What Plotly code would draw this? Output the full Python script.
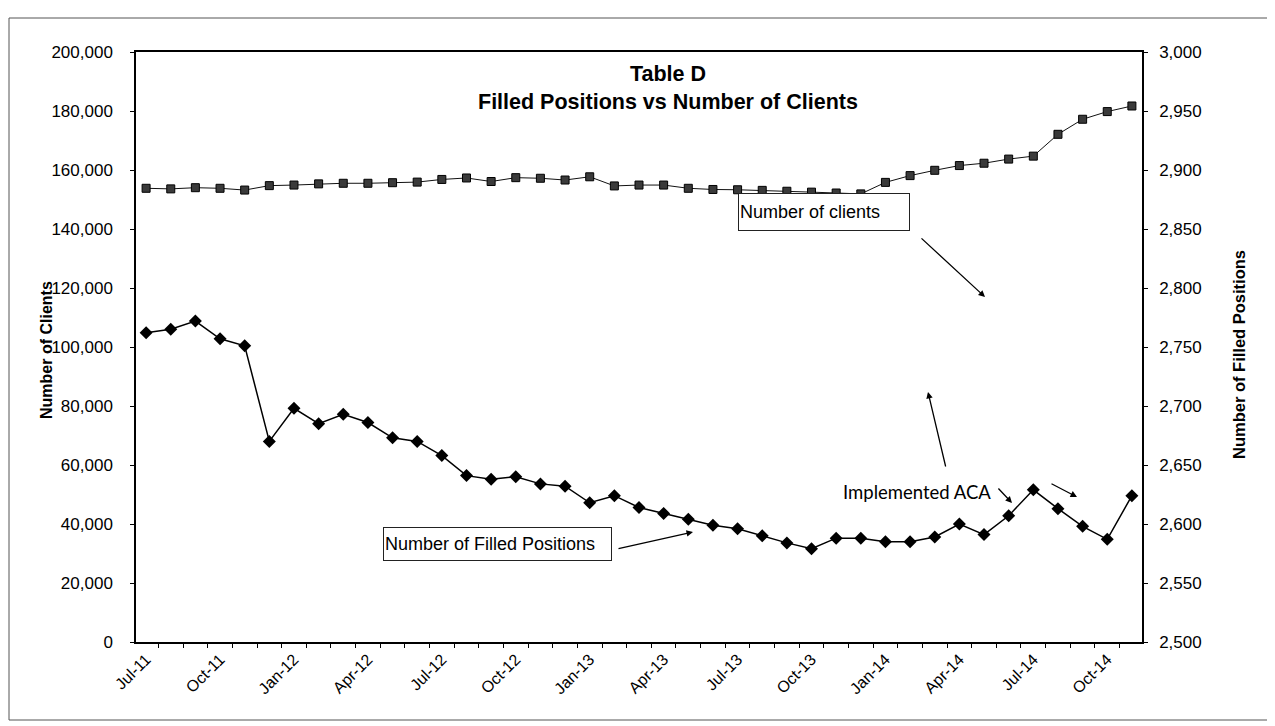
import plotly.graph_objects as go
import pandas as pd

# ---- data ----
months = [d.strftime("%b-%y") for d in pd.date_range("2011-07-01", "2014-11-01", freq="MS")]
clients = [153800, 153600, 154000, 153800, 153200, 154700, 154900, 155300, 155500, 155500,
           155700, 155900, 156800, 157300, 156100, 157400, 157200, 156600, 157700, 154600,
           154900, 154900, 153800, 153400, 153300, 153100, 152800, 152500, 152200, 151900,
           155800, 158100, 159900, 161500, 162300, 163700, 164700, 172100, 177200, 179800,
           181700]
filled_positions = [2762, 2765, 2772, 2757, 2751, 2670, 2698, 2685, 2693, 2686,
                    2673, 2670, 2658, 2641, 2638, 2640, 2634, 2632, 2618, 2624,
                    2614, 2609, 2604, 2599, 2596, 2590, 2584, 2579, 2588, 2588,
                    2585, 2585, 2589, 2600, 2591, 2607, 2629, 2613, 2598, 2587,
                    2624]
tick_labels = ["Jul-11", "Oct-11", "Jan-12", "Apr-12", "Jul-12", "Oct-12", "Jan-13",
               "Apr-13", "Jul-13", "Oct-13", "Jan-14", "Apr-14", "Jul-14", "Oct-14"]

idx = list(range(len(months)))
tick_pos = [months.index(t) for t in tick_labels]

FONT = "Liberation Sans, Arial, sans-serif"
OFF = 8  # page body margin offset

fig = go.Figure()
fig.add_trace(go.Scatter(
    x=idx, y=clients, mode="lines+markers", name="Number of clients",
    line=dict(color="#111111", width=1),
    marker=dict(symbol="square", size=8, color="#3a3a3a", line=dict(color="#000000", width=1)),
    yaxis="y", hovertext=months))
fig.add_trace(go.Scatter(
    x=idx, y=filled_positions, mode="lines+markers", name="Number of Filled Positions",
    line=dict(color="#000000", width=1.5),
    marker=dict(symbol="diamond", size=10, color="#000000"),
    yaxis="y2", hovertext=months))

fig.update_layout(
    width=1275, height=726,
    margin=dict(l=136 - OFF, r=1275 - 1142 + OFF, t=52 - OFF, b=726 - 642 + OFF),
    paper_bgcolor="white", plot_bgcolor="white",
    showlegend=False,
    font=dict(family=FONT, size=17, color="#000000"),
    xaxis=dict(
        range=[-0.41, 40.41], tickmode="array", tickvals=tick_pos, ticktext=tick_labels,
        tickangle=-45, ticks="", showgrid=False, zeroline=False,
        showline=True, linecolor="black", linewidth=1.5, mirror=True,
        minor=dict(tickmode="linear", tick0=0.5, dtick=1, ticks="outside",
                   ticklen=4, tickcolor="black", showgrid=False),
        tickfont=dict(size=16, family=FONT),
    ),
    yaxis=dict(
        range=[0, 200000], dtick=20000, tickformat=",", ticks="outside", ticklen=4,
        tickcolor="black", showgrid=False, zeroline=False,
        showline=True, linecolor="black", linewidth=1.5,
        ticklabelstandoff=14, tickfont=dict(size=17, family=FONT),
    ),
    yaxis2=dict(
        range=[2500, 3000], dtick=50, tickformat=",", ticks="outside", ticklen=4,
        tickcolor="black", showgrid=False, zeroline=False, overlaying="y", side="right",
        showline=True, linecolor="black", linewidth=1.5,
        ticklabelstandoff=8, tickfont=dict(size=17, family=FONT),
    ),
)

def px(x):
    return (x - 136) / 1006

def py(y):
    return (642 - y) / 590

C = dict(xref="paper", yref="paper", xanchor="center", yanchor="middle")
ann = []
# title
ann.append(dict(x=px(668), y=py(88), showarrow=False,
                text="<b>Table D<br>Filled Positions vs Number of Clients</b>",
                font=dict(size=21.5, family=FONT), align="center", **C))
# axis titles
ann.append(dict(x=px(46), y=py(350), showarrow=False,
                text="<b>Number of Clients</b>", textangle=-90, font=dict(size=16, family=FONT), **C))
ann.append(dict(x=px(1239), y=py(355), showarrow=False,
                text="<b>Number of Filled Positions</b>", textangle=-90, font=dict(size=16.5, family=FONT), **C))
# text boxes
ann.append(dict(x=px(823.5), y=py(212), showarrow=False,
                text="Number of clients", width=168, height=34, align="left",
                bordercolor="#222222", borderwidth=1, borderpad=1, bgcolor="white",
                font=dict(size=18, family=FONT), **C))
ann.append(dict(x=px(497.5), y=py(543.5), showarrow=False,
                text="Number of Filled Positions", width=225, height=30, align="left",
                bordercolor="#222222", borderwidth=1, borderpad=1, bgcolor="white",
                font=dict(size=18, family=FONT), **C))
ann.append(dict(x=px(917), y=py(492), showarrow=False,
                text="Implemented ACA", font=dict(size=18.5, family="Lato, Open Sans, sans-serif"), **C))
# arrows (head position, tail offset in pixels)
arrows = [((985, 297), (-65, -60)), ((693, 532), (-76, 17)), ((928, 392), (18, 76)),
          ((1012, 503), (-15, -16)), ((1077, 497), (-27, -14))]
for (hx, hy), (ax, ay) in arrows:
    ann.append(dict(x=px(hx), y=py(hy), xref="paper", yref="paper", text="",
                    showarrow=True, ax=ax, ay=ay, axref="pixel", ayref="pixel",
                    arrowhead=2, arrowsize=1, arrowwidth=1.3, arrowcolor="#000000"))
fig.update_layout(annotations=ann)

# outer chart border
fig.add_shape(type="rect", xref="paper", yref="paper",
              x0=px(9), x1=px(1270), y0=py(720), y1=py(18),
              line=dict(color="#555555", width=1))

fig.write_html("out.html")
